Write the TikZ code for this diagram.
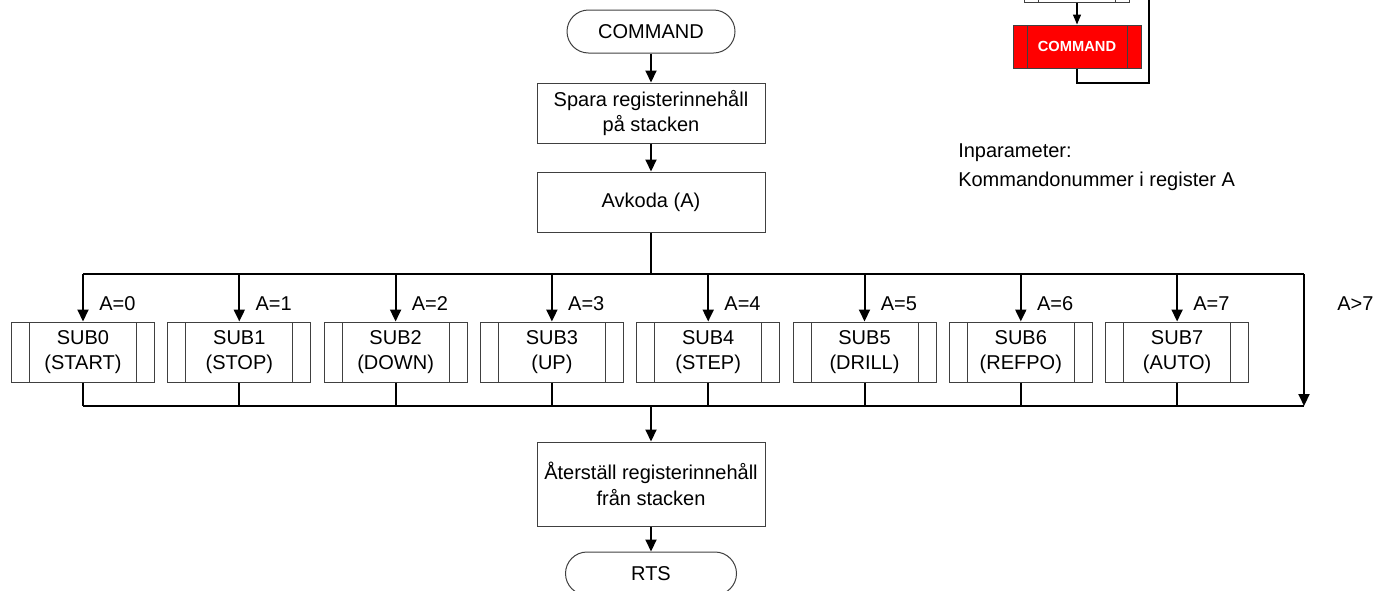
\documentclass[tikz,border=0pt]{standalone}
\usepackage{fontspec}
\setmainfont{Liberation Sans}
\usetikzlibrary{arrows.meta,shapes.misc}
\begin{document}
\begin{tikzpicture}[x=0.75pt,y=-0.75pt,
  every node/.style={font=\fontsize{15}{19}\selectfont, inner sep=0pt},
  box/.style={draw=black!75, line width=0.75pt, minimum width=171pt, align=center},
  term/.style={draw=black!75, line width=0.75pt, rounded rectangle, minimum height=32.25pt},
  sidebars/.style={path picture={\draw[black!75,line width=0.75pt]
      ([xshift=#1]path picture bounding box.north west) -- ([xshift=#1]path picture bounding box.south west)
      ([xshift=-#1]path picture bounding box.north east) -- ([xshift=-#1]path picture bounding box.south east);}},
  subbox/.style={box, minimum width=107.25pt, minimum height=45pt, sidebars=13.5pt},
  conn/.style={line width=1.5pt},
  arr/.style={conn, -{Triangle[width=8.25pt,length=9pt]}},
  small arr/.style={line width=1pt, -{Triangle[width=6pt,length=7.5pt]}},
  lbl/.style={anchor=west}]
\useasboundingbox (0,0) rectangle (1374,590);

% main column
\node[term, minimum width=126pt] (cmd) at (651,31.5) {COMMAND};
\node[box, minimum height=45pt] (spara) at (651,113) {Spara registerinnehåll\\på stacken};
\node[box, minimum height=45pt] (avk) at (651,202) {Avkoda (A)};
\node[box, minimum height=63pt] (ater) at (651,484) {Återställ registerinnehåll\\från stacken};
\node[term, minimum width=128.25pt] (rts) at (651,573.5) {RTS};

\draw[arr] (cmd.south) -- (spara.north);
\draw[arr] (spara.south) -- (avk.north);
\draw[arr] (ater.south) -- (rts.north);

% subroutine calls
\foreach \i/\t in {0/START,1/STOP,2/DOWN,3/UP,4/STEP,5/DRILL,6/REFPO,7/AUTO}{
  \node[subbox] (sub\i) at ({83+156.3*\i},352) {SUB\i\\(\t)};
  \node[lbl] (lab\i) at ({83+156.3*\i+16},304) {A=\i};
}
\node[lbl] (labx) at (1337,304) {A>7};

% distribution and collection buses
\coordinate (busL) at (83,274);
\coordinate (busR) at (1304,274);
\coordinate (botL) at (83,406);
\coordinate (botR) at (1304,406);
\draw[conn] (avk.south) -- (avk.south |- busL);
\draw[conn] (busL) -- (busR);
\draw[conn] (botL) -- (botR);
\foreach \i in {0,...,7}{
  \draw[arr] (sub\i.north |- busL) -- (sub\i.north);
  \draw[conn] (sub\i.south) -- (sub\i.south |- botL);
}
\draw[arr] (busR) -- (botR);
\draw[arr] (ater.north |- botL) -- (ater.north);

% call context
\node[draw=black!75, line width=0.75pt, minimum width=78.75pt, minimum height=32.25pt, sidebars=10.5pt] (caller) at (1076.5,-19.5) {};
\node[draw=black!75, fill=red, line width=0.75pt, minimum width=96pt, minimum height=32.25pt, sidebars=10.5pt,
      text=white, font=\fontsize{11}{13}\selectfont\bfseries] (callee) at (1077,46.5) {COMMAND};
\coordinate (loopA) at (1077,83);
\coordinate (loopB) at (1149,83);
\coordinate (loopC) at (1149,-10);
\draw[small arr] (caller.south -| callee.north) -- (callee.north);
\draw[line width=1pt] (callee.south) -- (loopA) -- (loopB) -- (loopC);

\node[anchor=west, align=left, font=\fontsize{15}{21.75}\selectfont] (param) at (958,167.5)
  {Inparameter:\\Kommandonummer i register A};
\end{tikzpicture}
\end{document}
